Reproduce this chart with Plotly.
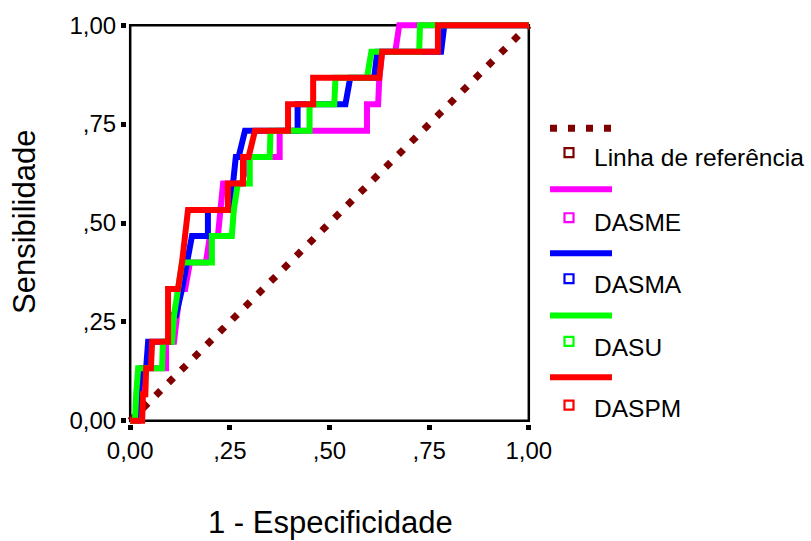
import plotly.graph_objects as go

# ---- data ----
ref_x = [0.0, 1.0]
ref_y = [0.0, 1.0]

dasme_fpr = [0, 0.02, 0.025, 0.03, 0.09, 0.09, 0.11, 0.125, 0.138, 0.15, 0.19, 0.2, 0.22, 0.233, 0.28, 0.297, 0.375, 0.375, 0.594, 0.594, 0.622, 0.625, 0.632, 0.665, 0.675, 1]
dasme_tpr = [0, 0, 0.067, 0.133, 0.133, 0.2, 0.2, 0.333, 0.333, 0.4, 0.4, 0.467, 0.467, 0.6, 0.6, 0.667, 0.667, 0.733, 0.733, 0.8, 0.8, 0.867, 0.933, 0.933, 1, 1]

dasma_fpr = [0, 0.015, 0.02, 0.03, 0.04, 0.045, 0.1, 0.105, 0.115, 0.13, 0.155, 0.195, 0.195, 0.25, 0.258, 0.265, 0.272, 0.288, 0.42, 0.42, 0.54, 0.552, 0.612, 0.62, 0.78, 0.788, 1]
dasma_tpr = [0, 0, 0.067, 0.133, 0.133, 0.2, 0.2, 0.267, 0.267, 0.333, 0.467, 0.467, 0.533, 0.533, 0.6, 0.667, 0.667, 0.733, 0.733, 0.8, 0.8, 0.867, 0.867, 0.933, 0.933, 1, 1]

dasu_fpr = [0, 0.012, 0.015, 0.02, 0.08, 0.082, 0.105, 0.11, 0.12, 0.13, 0.205, 0.205, 0.255, 0.26, 0.27, 0.3, 0.3, 0.35, 0.352, 0.45, 0.45, 0.512, 0.515, 0.594, 0.605, 0.725, 0.727, 1]
dasu_tpr = [0, 0, 0.067, 0.133, 0.133, 0.2, 0.2, 0.267, 0.333, 0.4, 0.4, 0.467, 0.467, 0.533, 0.6, 0.6, 0.667, 0.667, 0.733, 0.733, 0.8, 0.8, 0.867, 0.867, 0.933, 0.933, 1, 1]

daspm_fpr = [0, 0.03, 0.032, 0.038, 0.04, 0.052, 0.055, 0.095, 0.095, 0.12, 0.13, 0.138, 0.145, 0.245, 0.245, 0.283, 0.283, 0.297, 0.313, 0.396, 0.396, 0.459, 0.459, 0.625, 0.632, 0.772, 0.772, 1]
daspm_tpr = [0, 0, 0.067, 0.067, 0.133, 0.133, 0.2, 0.2, 0.333, 0.333, 0.4, 0.467, 0.533, 0.533, 0.6, 0.6, 0.667, 0.667, 0.733, 0.733, 0.8, 0.8, 0.867, 0.867, 0.933, 0.933, 1, 1]

tick_vals = [0, 0.25, 0.5, 0.75, 1]
tick_text = ["0,00", ",25", ",50", ",75", "1,00"]

series_names = ["DASME", "DASMA", "DASU", "DASPM"]
series_colors = ["#FF00FF", "#0000FF", "#00FF00", "#FF0000"]
ref_name = "Linha de referência"
ref_color = "#800000"

# ---- layout geometry ----
W, H = 811, 541
ML, MR, MT, MB = 127, 279, 20, 117
PW, PH = W - ML - MR, H - MT - MB
PAD = 0.008
FONT = "Liberation Sans, Arial, sans-serif"


def px(x):
    return (x - ML) / PW


def py(y):
    return (H - MB - y) / PH


fig = go.Figure()
fig.add_trace(go.Scatter(x=ref_x, y=ref_y, mode="lines", name=ref_name,
                         line=dict(color=ref_color, width=7, dash="7px,11px")))
all_series = [(dasme_fpr, dasme_tpr), (dasma_fpr, dasma_tpr), (dasu_fpr, dasu_tpr), (daspm_fpr, daspm_tpr)]
for (fx, fy), nm, col in zip(all_series, series_names, series_colors):
    fig.add_trace(go.Scatter(x=fx, y=fy, mode="lines", name=nm,
                             line=dict(color=col, width=6)))

shapes = [dict(type="rect", xref="x", yref="y", x0=0, y0=0, x1=1, y1=1,
               line=dict(color="black", width=2.5), layer="below")]
annotations = []

# custom legend (SPSS style)
leg_line_y = [126.7, 188, 252.5, 315, 377]
leg_sq_y = [151.3, 216.7, 278, 341, 405]
leg_txt_y = [156, 221.5, 284, 347, 408]
leg_names = [ref_name] + series_names
leg_colors = [ref_color] + series_colors
for i, (nm, col) in enumerate(zip(leg_names, leg_colors)):
    shapes.append(dict(type="line", xref="paper", yref="paper",
                       x0=px(550), x1=px(612), y0=py(leg_line_y[i]), y1=py(leg_line_y[i]),
                       line=dict(color=col, width=7 if i == 0 else 6,
                                 dash="7px,11px" if i == 0 else "solid")))
    shapes.append(dict(type="rect", xref="paper", yref="paper",
                       x0=px(564.5), x1=px(573.5), y0=py(leg_sq_y[i] + 4.5), y1=py(leg_sq_y[i] - 4.5),
                       line=dict(color=col, width=2.2), fillcolor="white"))
    annotations.append(dict(xref="paper", yref="paper", x=px(592), y=py(leg_txt_y[i]),
                            xanchor="left", yanchor="middle", text=nm, showarrow=False,
                            font=dict(family=FONT, size=24.5, color="black")))

annotations.append(dict(xref="paper", yref="paper", x=px(330), y=py(523), text="1 - Especificidade",
                        xanchor="center", yanchor="middle", showarrow=False,
                        font=dict(family=FONT, size=31, color="black")))
annotations.append(dict(xref="paper", yref="paper", x=px(24), y=py(221), text="Sensibilidade",
                        textangle=-90, xanchor="center", yanchor="middle", showarrow=False,
                        font=dict(family=FONT, size=31, color="black")))

axis_common = dict(range=[-PAD, 1 + PAD], tickvals=tick_vals, ticktext=tick_text,
                   showgrid=False, zeroline=False, showline=False,
                   ticks="outside", ticklen=5, tickwidth=5, tickcolor="black",
                   tickfont=dict(family=FONT, size=24, color="black"), fixedrange=True)

fig.update_layout(
    width=W, height=H, autosize=False,
    margin=dict(l=ML, r=MR, t=MT, b=MB, pad=0),
    paper_bgcolor="white", plot_bgcolor="white",
    showlegend=False,
    xaxis=dict(**axis_common),
    yaxis=dict(**axis_common),
    shapes=shapes, annotations=annotations,
    font=dict(family=FONT),
)

fig.write_html("out.html")
